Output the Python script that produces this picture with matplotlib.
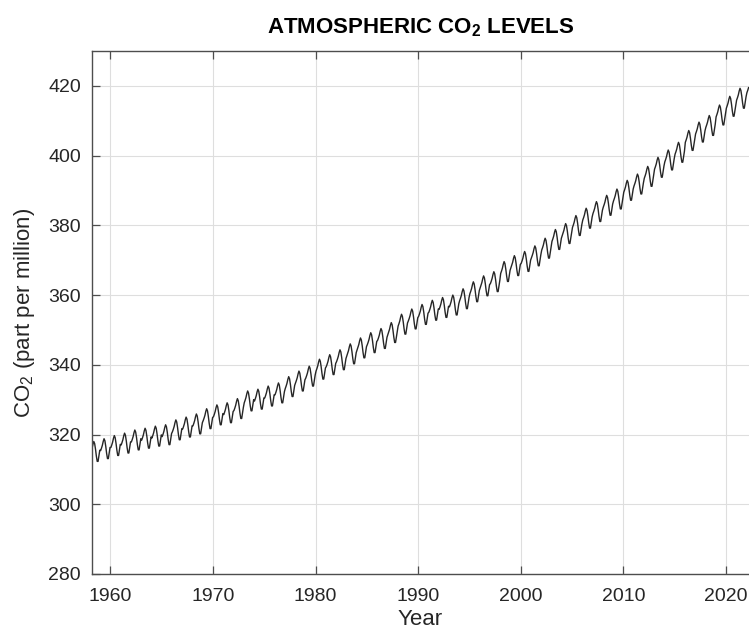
import numpy as np
import matplotlib
matplotlib.use("Agg")
import matplotlib.pyplot as plt

# Mauna Loa CO2: annual mean levels (ppm)
years = list(range(1958, 2023))
annual_mean = [315.2, 316.0, 316.9, 317.6, 318.5, 319.0, 319.6, 320.0, 321.4, 322.2,
               323.1, 324.6, 325.7, 326.3, 327.5, 329.7, 330.2, 331.1, 332.0, 333.8,
               335.4, 336.8, 338.8, 340.1, 341.5, 343.2, 344.9, 346.4, 347.6, 349.3,
               351.7, 353.2, 354.5, 355.7, 356.5, 357.2, 359.0, 361.0, 362.7, 363.9,
               366.8, 368.5, 369.7, 371.3, 373.5, 376.0, 377.7, 380.0, 382.1, 384.0,
               385.8, 387.6, 390.1, 391.9, 394.1, 396.7, 398.8, 401.0, 404.4, 406.8,
               408.7, 411.7, 414.2, 416.5, 418.6]
# seasonal swing around the annual mean, Jan..Dec
month_offset = [-0.6, 0.1, 0.9, 2.0, 2.8, 2.2, 0.6, -1.4, -2.9, -2.9, -1.3, 0.3]
first_month = 3   # record begins March 1958
last_month = 3    # ends March 2022

t, co2 = [], []
for y, m in zip(years, annual_mean):
    for k in range(12):
        if y == years[0] and k + 1 < first_month:
            continue
        if y == years[-1] and k + 1 > last_month:
            continue
        t.append(y + (k + 0.5) / 12)
        co2.append(m + month_offset[k])

plt.rcParams['font.family'] = ['Liberation Sans', 'DejaVu Sans']
plt.rcParams['mathtext.default'] = 'regular'

fig = plt.figure(figsize=(7.49, 6.35), dpi=100)
ax = fig.add_axes([92 / 749, 61 / 635, 1.0 - 92 / 749, 523 / 635])

ax.plot(t, co2, color='#262626', lw=1.0)

ax.set_xlim(1958.2, 2022.25)
ax.set_ylim(280, 430)
ax.set_xticks(range(1960, 2021, 10))
ax.set_yticks(range(280, 421, 20))
ax.grid(True, color='#dedede', lw=0.8)
ax.set_axisbelow(True)

for s in ax.spines.values():
    s.set_color('#4d4d4d')
    s.set_linewidth(1.0)
ax.spines['right'].set_visible(False)
ax.tick_params(direction='in', length=6, width=0.9, color='#4d4d4d',
               labelsize=14, labelcolor='#262626', top=True, right=False)
ax.tick_params(axis='x', pad=10)
ax.tick_params(axis='y', pad=8)

ax.set_xlabel('Year', fontsize=16, color='#262626', labelpad=3)
ax.set_ylabel('CO$_2$ (part per million)', fontsize=16, color='#262626', labelpad=8)
ax.set_title('ATMOSPHERIC CO$_2$ LEVELS', fontsize=16, fontweight='bold', pad=13)

fig.savefig('out.png', dpi=100)
